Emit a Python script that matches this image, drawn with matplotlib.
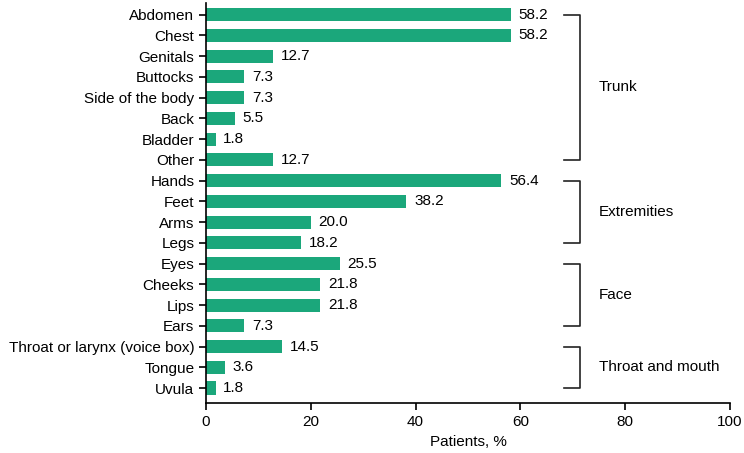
import matplotlib.pyplot as plt

plt.rcParams['font.family'] = ['Liberation Sans', 'DejaVu Sans']

sites = ["Abdomen", "Chest", "Genitals", "Buttocks", "Side of the body", "Back",
         "Bladder", "Other", "Hands", "Feet", "Arms", "Legs", "Eyes", "Cheeks",
         "Lips", "Ears", "Throat or larynx (voice box)", "Tongue", "Uvula"]
patients = [58.2, 58.2, 12.7, 7.3, 7.3, 5.5, 1.8, 12.7, 56.4, 38.2, 20.0, 18.2,
            25.5, 21.8, 21.8, 7.3, 14.5, 3.6, 1.8]
# group name, first index, last index
groups = [("Trunk", 0, 7), ("Extremities", 8, 11), ("Face", 12, 15),
          ("Throat and mouth", 16, 18)]

fs = 11

fig = plt.figure(figsize=(7.44, 4.53), dpi=100)
ax = fig.add_axes([0.277, 0.110, 0.704, 0.883])

pos = list(range(len(sites)))
ax.barh(pos, patients, height=0.63, color="#1ba77b")
for p, v in zip(pos, patients):
    ax.text(v + 1.5, p, f"{v:.1f}", va="center", ha="left", fontsize=fs)

for name, a, b in groups:
    ax.plot([68.3, 71.3, 71.3, 68.3], [a, a, b, b], color="#222222", lw=1.2,
            clip_on=False)
    ax.text(75, (a + b) / 2, name, va="center", ha="left", fontsize=fs)

ax.set_yticks(pos)
ax.set_yticklabels(sites, fontsize=fs)
ax.set_ylim(18.73, -0.55)
ax.set_xlim(0, 100)
ax.set_xticks([0, 20, 40, 60, 80, 100])
ax.tick_params(axis="x", labelsize=fs, length=5, width=1.2)
ax.tick_params(axis="y", length=5, width=1.2)
ax.set_xlabel("Patients, %", fontsize=fs)
ax.spines["top"].set_visible(False)
ax.spines["right"].set_visible(False)
ax.spines["left"].set_linewidth(1.2)
ax.spines["bottom"].set_linewidth(1.2)

fig.savefig("out.png", dpi=100)
